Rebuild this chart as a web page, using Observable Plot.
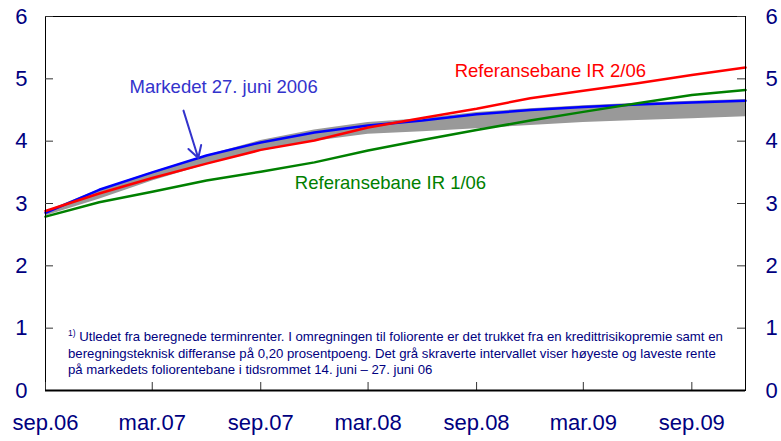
<!DOCTYPE html>
<html>
<head>
<meta charset="utf-8">
<script src="https://cdn.jsdelivr.net/npm/d3@7"></script>
<script src="https://cdn.jsdelivr.net/npm/@observablehq/plot@0.6"></script>
<style>
  html, body { margin: 0; padding: 0; background: #fff; }
  #wrap { position: relative; width: 781px; height: 441px; font-family: "Liberation Sans", Arial, sans-serif; }
  #note { position: absolute; left: 68px; top: 329px; font-size: 13.2px; line-height: 16.5px; color: #000080; white-space: nowrap; }
  #note sup { font-size: 8.5px; vertical-align: 5px; line-height: 0; }
</style>
</head>
<body>
<div id="wrap"><div id="note"><sup>1)</sup> Utledet fra beregnede terminrenter. I omregningen til foliorente er det trukket fra en kredittrisikopremie samt en<br>beregningsteknisk differanse på 0,20 prosentpoeng. Det grå skraverte intervallet viser høyeste og laveste rente<br>på markedets foliorentebane i tidsrommet 14. juni – 27. juni 06</div></div>
<script>
// quarterly dates
const dates = ["2006-09-01","2006-12-01","2007-03-01","2007-06-01","2007-09-01","2007-12-01",
               "2008-03-01","2008-06-01","2008-09-01","2008-12-01","2009-03-01","2009-06-01",
               "2009-09-01","2009-12-01"];
const markedet = [2.85, 3.22, 3.50, 3.77, 3.98, 4.14, 4.25, 4.33, 4.43, 4.50, 4.55, 4.59, 4.62, 4.65];
const ir206    = [2.88, 3.16, 3.41, 3.64, 3.86, 4.01, 4.22, 4.37, 4.52, 4.69, 4.81, 4.93, 5.06, 5.18];
const ir106    = [2.79, 3.02, 3.19, 3.37, 3.51, 3.66, 3.85, 4.02, 4.18, 4.33, 4.47, 4.61, 4.74, 4.82];
const bandHigh = [2.87, 3.22, 3.50, 3.77, 4.01, 4.18, 4.30, 4.36, 4.46, 4.52, 4.57, 4.61, 4.64, 4.67];
const bandLow  = [2.80, 3.07, 3.36, 3.62, 3.84, 4.00, 4.11, 4.15, 4.20, 4.25, 4.30, 4.33, 4.36, 4.39];

const xTickDates  = ["2006-09-01","2007-03-01","2007-09-01","2008-03-01","2008-09-01","2009-03-01","2009-09-01"];
const xTickLabels = ["sep.06","mar.07","sep.07","mar.08","sep.08","mar.09","sep.09"];
const yTicks = [0, 1, 2, 3, 4, 5, 6];

// annotation labels (data space)
const labelTexts = ["Markedet 27. juni 2006", "Referansebane IR 2/06", "Referansebane IR 1/06"];
const labelDates = ["2007-06-30", "2009-01-04", "2008-04-08"];
const labelVals  = [4.86, 5.13, 3.32];
const labelColors = ["#3333cc", "#ff0000", "#008000"];
const arrowFrom = {date: "2007-04-23", value: 4.49};
const arrowTo   = {date: "2007-05-18", value: 3.73};

const D = s => new Date(s + "T00:00:00Z");
const rows = dates.map((d, i) => ({date: D(d), m: markedet[i], r: ir206[i], g: ir106[i], hi: bandHigh[i], lo: bandLow[i]}));
const labels = labelTexts.map((t, i) => ({text: t, date: D(labelDates[i]), v: labelVals[i], c: labelColors[i]}));
const tickMap = new Map(xTickDates.map((d, i) => [+D(d), xTickLabels[i]]));
const navy = "#000080";

const W = 781, H = 441, mL = 45, mR = 36, mT = 16, mB = 51;
const pw = W - mL - mR, ph = H - mT - mB, tk = 8;

const chart = Plot.plot({
  width: W,
  height: H,
  marginLeft: mL,
  marginRight: mR,
  marginTop: mT,
  marginBottom: mB,
  style: {fontFamily: "'Liberation Sans', Arial, sans-serif", background: "transparent"},
  x: {type: "utc", domain: [D("2006-09-01"), D("2009-12-01")]},
  y: {domain: [0, 6]},
  marks: [
    Plot.areaY(rows, {x: "date", y1: "lo", y2: "hi", fill: "#999999"}),
    Plot.lineY(rows, {x: "date", y: "m", stroke: "#0000ff", strokeWidth: 2.5}),
    Plot.lineY(rows, {x: "date", y: "r", stroke: "#ff0000", strokeWidth: 2.5}),
    Plot.lineY(rows, {x: "date", y: "g", stroke: "#008000", strokeWidth: 2.5}),
    Plot.arrow([0], {x1: () => D(arrowFrom.date), y1: () => arrowFrom.value, x2: () => D(arrowTo.date), y2: () => arrowTo.value,
      stroke: "#3333cc", strokeWidth: 2, headLength: 10}),
    Plot.text(labels, {x: "date", y: "v", text: "text", fill: "c", fontSize: 18.5}),
    Plot.frame({stroke: "black", strokeWidth: 1}),
    // inward ticks
    Plot.tickY(yTicks, {y: d => d, stroke: "#333", insetRight: pw - tk}),
    Plot.tickY(yTicks, {y: d => d, stroke: "#333", insetLeft: pw - tk}),
    Plot.tickX(xTickDates.map(D), {x: d => d, stroke: "#333", insetTop: ph - tk}),
    // labels
    Plot.axisY(yTicks, {anchor: "left", tickSize: 0, tickPadding: 18, fill: navy, fontSize: 22, label: null, tickFormat: d => String(d)}),
    Plot.axisY(yTicks, {anchor: "right", tickSize: 0, tickPadding: 20, fill: navy, fontSize: 22, label: null, tickFormat: d => String(d)}),
    Plot.axisX(xTickDates.map(D), {anchor: "bottom", tickSize: 0, tickPadding: 24, fill: navy, fontSize: 22, label: null,
      tickFormat: d => tickMap.get(+d)}),
    Plot.ruleY([0], {stroke: "black", strokeWidth: 2})
  ]
});
document.getElementById("wrap").prepend(chart);
chart.style.position = "absolute";
chart.style.left = "0";
chart.style.top = "0";
</script>
</body>
</html>
